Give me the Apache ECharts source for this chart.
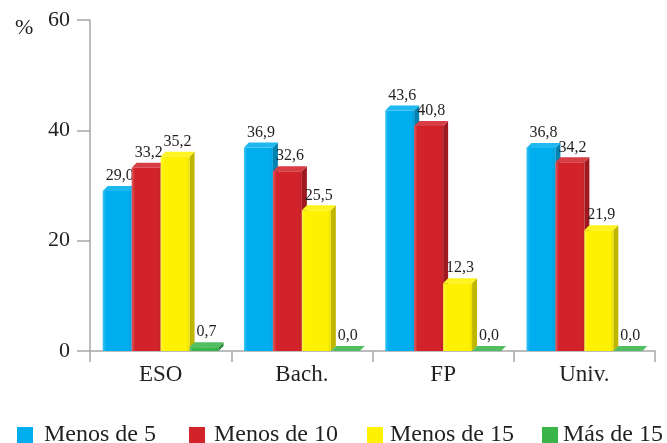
<!DOCTYPE html>
<html>
<head>
<meta charset="utf-8">
<script src="https://cdn.jsdelivr.net/npm/echarts@6/dist/echarts.min.js"></script>
<style>
  html, body { margin: 0; padding: 0; background: #ffffff; }
  #chart { width: 667px; height: 443px; }
</style>
</head>
<body>
<div id="chart"></div>
<script>
// Level of studies (x) and share of respondents per range (%)
const categories = ['ESO', 'Bach.', 'FP', 'Univ.'];
const seriesNames = ['Menos de 5', 'Menos de 10', 'Menos de 15', 'Más de 15'];
const menos5 = [29.0, 36.9, 43.6, 36.8];
const menos10 = [33.2, 32.6, 40.8, 34.2];
const menos15 = [35.2, 25.5, 12.3, 21.9];
const mas15 = [0.7, 0.0, 0.0, 0.0];
const yTicks = [0, 20, 40, 60];

const colors = ['#00aeef', '#d2232a', '#fff200', '#39b54a'];
const FONT = '"Liberation Serif", "DejaVu Serif", serif';
const INK = '#231f20';
const AXIS = '#a7a7a7';

// Mix a hex colour towards white (t > 0) or black (t < 0)
function shade(hex, t) {
  const n = parseInt(hex.slice(1), 16);
  let r = (n >> 16) & 255, g = (n >> 8) & 255, b = n & 255;
  const target = t > 0 ? 255 : 0, f = Math.abs(t);
  r = Math.round(r + (target - r) * f);
  g = Math.round(g + (target - g) * f);
  b = Math.round(b + (target - b) * f);
  return 'rgb(' + r + ',' + g + ',' + b + ')';
}

const fmt = v => v.toFixed(1).replace('.', ',');

// Column with a small bevelled top and right side, placed in its slot of the group
function makeRender(k, color) {
  return function (params, api) {
    const ci = api.value(0), v = api.value(1);
    const p0 = api.coord([ci, 0]);
    const p1 = api.coord([ci, v]);
    const band = api.size([1, 0])[0];
    const bw = band * 0.205;
    const x = p0[0] + (k - 1.5) * bw - bw / 2;
    const yb = p0[1], yt = p1[1];
    const d = 5;
    return {
      type: 'group',
      children: [
        {
          type: 'polygon',
          shape: { points: [[x + bw, yt], [x + bw + d, yt - d], [x + bw + d, yb - d], [x + bw, yb]] },
          style: { fill: shade(color, -0.25) }
        },
        {
          type: 'rect',
          shape: { x: x, y: yt, width: bw, height: yb - yt },
          style: {
            fill: {
              type: 'linear', x: 0, y: 0, x2: 1, y2: 0,
              colorStops: [
                { offset: 0, color: shade(color, 0.25) },
                { offset: 0.12, color: color },
                { offset: 0.88, color: color },
                { offset: 1, color: shade(color, -0.08) }
              ]
            }
          }
        },
        {
          type: 'polygon',
          shape: { points: [[x, yt], [x + d, yt - d], [x + bw + d, yt - d], [x + bw, yt]] },
          style: { fill: shade(color, 0.12) }
        },
        {
          type: 'text',
          style: {
            x: x + bw / 2 + d / 2,
            y: yt - d - 2,
            text: fmt(v),
            align: 'center',
            verticalAlign: 'bottom',
            fill: INK,
            font: '16px ' + FONT
          }
        }
      ]
    };
  };
}

const seriesValues = [menos5, menos10, menos15, mas15];
const legendLefts = [12, 184, 362, 537];
const legendPads = [6, 4, 2, 0];

const option = {
  animation: false,
  backgroundColor: '#ffffff',
  title: {
    text: '%', left: 10, top: 12,
    textStyle: { fontFamily: FONT, fontSize: 22, fontWeight: 'normal', color: INK }
  },
  legend: seriesNames.map((name, i) => ({
    data: [name],
    left: legendLefts[i],
    top: 418,
    icon: 'rect',
    itemWidth: 16,
    itemHeight: 16,
    selectedMode: false,
    textStyle: { fontFamily: FONT, fontSize: 24, color: INK, padding: [0, 0, 0, legendPads[i]] }
  })),
  grid: { left: 90, right: 12, top: 20, bottom: 92 },
  xAxis: {
    type: 'category',
    data: categories,
    boundaryGap: true,
    axisLine: { lineStyle: { color: AXIS, width: 1.5 } },
    axisTick: { show: true, interval: 0, length: 11, lineStyle: { color: AXIS, width: 1.5 } },
    axisLabel: { fontFamily: FONT, fontSize: 23, color: INK, margin: 12 }
  },
  yAxis: {
    type: 'value',
    min: yTicks[0],
    max: yTicks[yTicks.length - 1],
    interval: yTicks[1] - yTicks[0],
    axisLine: { show: true, lineStyle: { color: AXIS, width: 1.5 } },
    axisTick: { show: true, length: 13, lineStyle: { color: AXIS, width: 1.5 } },
    splitLine: { show: false },
    axisLabel: { fontFamily: FONT, fontSize: 22, color: INK, margin: 20 }
  },
  series: seriesNames.map((name, k) => ({
    name: name,
    type: 'custom',
    itemStyle: { color: colors[k] },
    encode: { x: 0, y: 1 },
    clip: false,
    renderItem: makeRender(k, colors[k]),
    data: seriesValues[k].map((v, i) => [i, v])
  }))
};

const chart = echarts.init(document.getElementById('chart'), null, { renderer: 'canvas' });
chart.setOption(option);
</script>
</body>
</html>
